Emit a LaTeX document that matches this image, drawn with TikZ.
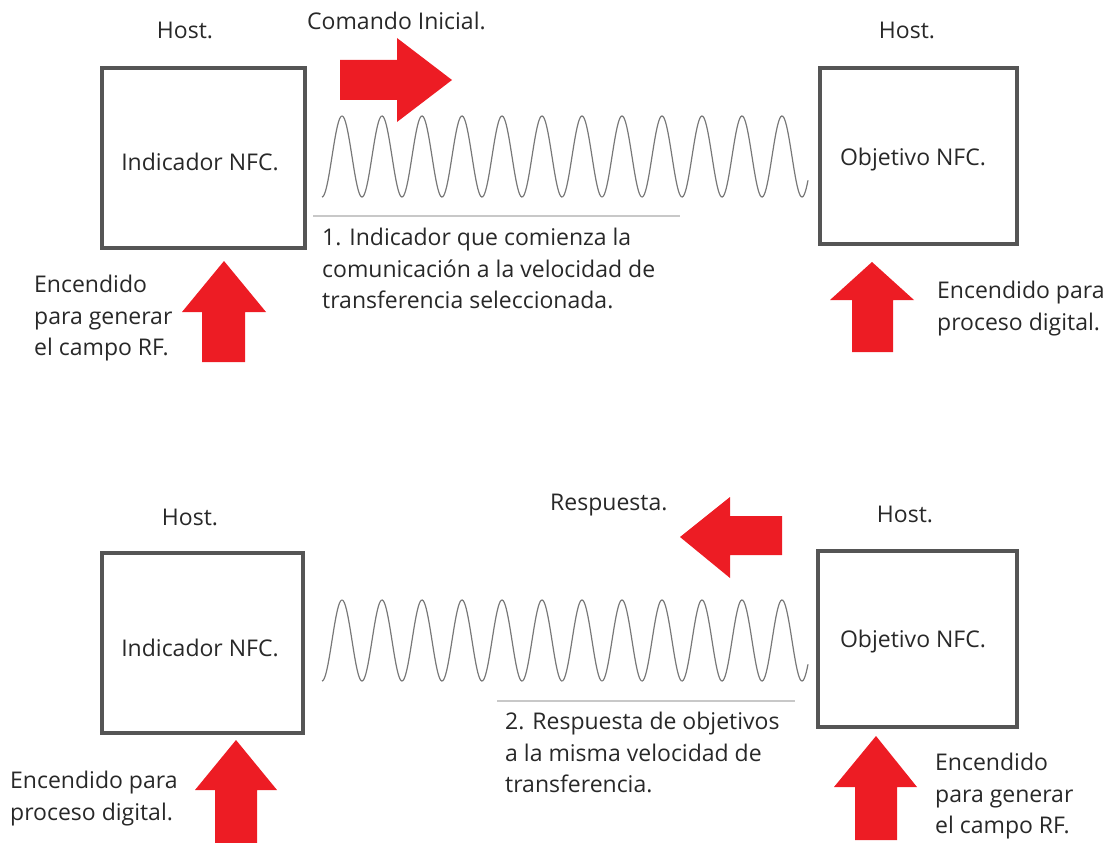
\documentclass[tikz,border=0pt]{standalone}
\usepackage{fontspec}
\setmainfont{Open Sans}
\definecolor{boxgray}{RGB}{85,85,85}
\definecolor{txt}{RGB}{40,40,40}
\definecolor{wavegray}{RGB}{120,120,120}
\definecolor{linegray}{RGB}{200,200,200}
\definecolor{nfcred}{RGB}{237,28,36}
\tikzset{
  devbox/.style={draw=boxgray, line width=4pt, fill=white},
  lbl/.style={text=txt, font=\fontsize{23}{31.5}\selectfont, inner sep=0pt},
  mlbl/.style={lbl, align=left, anchor=north west},
  wave/.style={draw=wavegray, line width=1.2pt},
  uline/.style={draw=linegray, line width=2pt},
  redarrow/.style={fill=nfcred, draw=none}
}
\begin{document}
\begin{tikzpicture}[x=1pt,y=-1pt]
\useasboundingbox (0,0) rectangle (1109,843);
% ---------- top ----------
\node[lbl] (hostA) at (185,30) {Host.};
\node[lbl] (hostB) at (907,30) {Host.};
\path[devbox] (102,68) rectangle (305,248);
\node[lbl] (indA) at (200,162) {Indicador NFC.};
\path[devbox] (820,68) rectangle (1017,244);
\node[lbl] (objA) at (913,160) {Objetivo NFC.};
\node[lbl, anchor=west] (cmd) at (307,21) {Comando Inicial.};
\fill[redarrow] (340,60) -- (397,60) -- (397,38) -- (452,80) -- (397,122) -- (397,100) -- (340,100) -- cycle;
\draw[wave] plot[domain=0:486, samples=500] ({\x+322}, {156.5+40.5*cos(\x*9)});
\draw[uline] (313,216) -- (680,216);
\node[mlbl] (txt1) at (322,228) {1. Indicador que comienza la\\comunicación a la velocidad de\\transferencia seleccionada.};
\fill[redarrow] (224,261) -- (266,312) -- (245,312) -- (245,362) -- (202,362) -- (202,312) -- (182,312) -- cycle;
\node[mlbl] (encA) at (34,275) {Encendido\\para generar\\el campo RF.};
\fill[redarrow] (872,262) -- (914,300) -- (893,300) -- (893,352) -- (852,352) -- (852,300) -- (830,300) -- cycle;
\node[mlbl] (encB) at (937,281) {Encendido para\\proceso digital.};
% ---------- bottom ----------
\node[lbl] (hostC) at (190,517) {Host.};
\node[lbl] (hostD) at (905,514) {Host.};
\path[devbox] (102,553) rectangle (303,733);
\node[lbl] (indB) at (200,648) {Indicador NFC.};
\path[devbox] (818,551) rectangle (1017,727);
\node[lbl] (objB) at (913,642) {Objetivo NFC.};
\node[lbl, anchor=west] (resp) at (550,505) {Respuesta.};
\fill[redarrow] (782,516) -- (730,516) -- (730,497) -- (680,537) -- (730,578) -- (730,555) -- (782,555) -- cycle;
\draw[wave] plot[domain=0:486, samples=500] ({\x+322}, {640.5+40.5*cos(\x*9)});
\draw[uline] (497,701) -- (795,701);
\node[mlbl] (txt2) at (505,712) {2. Respuesta de objetivos\\a la misma velocidad de\\transferencia.};
\fill[redarrow] (236,740) -- (277,790) -- (257,790) -- (257,843) -- (215,843) -- (215,790) -- (195,790) -- cycle;
\node[mlbl] (encC) at (10,771) {Encendido para\\proceso digital.};
\fill[redarrow] (876,736) -- (917,787) -- (897,787) -- (897,840) -- (855,840) -- (855,787) -- (834,787) -- cycle;
\node[mlbl] (encD) at (935,753) {Encendido\\para generar\\el campo RF.};
\end{tikzpicture}
\end{document}
